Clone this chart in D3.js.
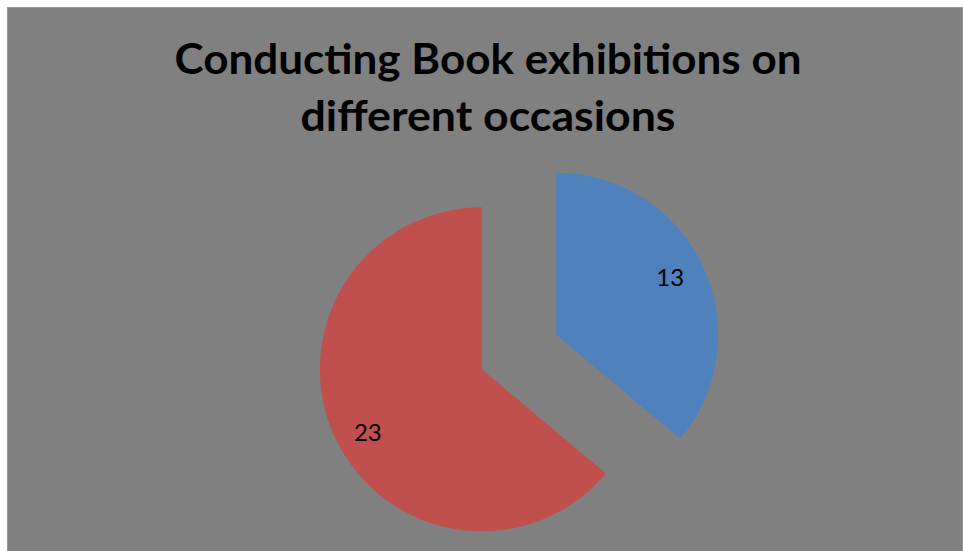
<!DOCTYPE html>
<html>
<head>
<meta charset="utf-8">
<script src="https://cdn.jsdelivr.net/npm/d3@7"></script>
<style>
  html, body { margin: 0; padding: 0; background: #fff; }
  svg { display: block; }
</style>
</head>
<body>
<div id="screen"></div>
<script>
// données du graphique
const categories = ['Yes', 'No']
const values = [13, 23]
const colors = ['#4F81BD', '#C0504D']
const titleLines = ['Conducting Book exhibitions on', 'different occasions']

const width = 963
const height = 551

const container = d3.select('#screen')
container.selectAll('*').remove()
const svg = container.append('svg')
  .attr('width', width)
  .attr('height', height)

// fond du graphique
svg.append('rect')
  .attr('x', 7.5)
  .attr('y', 7.5)
  .attr('width', 955)
  .attr('height', 550)
  .attr('fill', '#808080')
  .attr('stroke', '#9a9a9a')
  .attr('stroke-width', 1)

// titre (largeurs mesurées sur la référence)
const titleWidths = [627, 375]
const title = svg.append('g')
  .attr('font-family', "Lato, 'Open Sans', sans-serif")
  .attr('font-weight', 'bold')
  .attr('font-size', 42)
  .attr('text-anchor', 'middle')
  .attr('fill', '#000')
titleLines.forEach((line, i) => {
  title.append('text')
    .attr('x', 488)
    .attr('y', 74 + i * 57)
    .attr('textLength', titleWidths[i])
    .attr('lengthAdjust', 'spacingAndGlyphs')
    .text(line)
})

// camembert
const cx = 519
const cy = 352
const radius = 162
const explode = 41

const pie = d3.pie().sort(null).value(d => d)
const arcs = pie(values)
const arc = d3.arc().innerRadius(0).outerRadius(radius)

const g = svg.append('g').attr('transform', `translate(${cx},${cy})`)

const slices = g.selectAll('g.slice')
  .data(arcs)
  .join('g')
  .attr('class', 'slice')
  .attr('transform', d => {
    const a = (d.startAngle + d.endAngle) / 2
    return `translate(${explode * Math.sin(a)},${-explode * Math.cos(a)})`
  })

slices.append('path')
  .attr('d', arc)
  .attr('fill', (d, i) => colors[i])

// étiquettes des valeurs
const labelRadius = 129
slices.append('text')
  .attr('x', d => labelRadius * Math.sin((d.startAngle + d.endAngle) / 2 - 0.05))
  .attr('y', d => -labelRadius * Math.cos((d.startAngle + d.endAngle) / 2 - 0.05))
  .attr('dy', '0.48em')
  .attr('text-anchor', 'middle')
  .attr('font-family', "Lato, 'Open Sans', sans-serif")
  .attr('font-size', 24)
  .attr('fill', '#000')
  .text(d => d.data)
</script>
</body>
</html>
